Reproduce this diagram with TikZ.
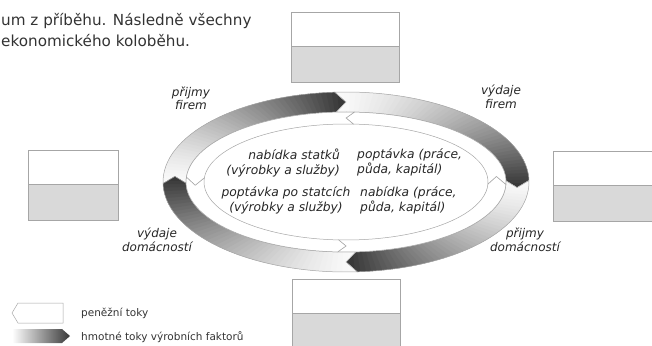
\documentclass[tikz,border=0pt]{standalone}
\usepackage{fontspec}
\setmainfont{DejaVu Sans}
\newcommand\oseg[5]{\path[#5] (#2:183pt and 90pt) arc[start angle=#2,end angle=#3,x radius=183pt,y radius=90pt] -- (#4:171.5pt and 80pt) -- (#3:160pt and 70pt) arc[start angle=#3,end angle=#2,x radius=160pt,y radius=70pt] -- (#1:171.5pt and 80pt) -- cycle;}
\newcommand\iseg[5]{\path[#5] (#2:160pt and 70pt) arc[start angle=#2,end angle=#3,x radius=160pt,y radius=70pt] -- (#4:151pt and 64pt) -- (#3:142pt and 58pt) arc[start angle=#3,end angle=#2,x radius=142pt,y radius=58pt] -- (#1:151pt and 64pt) -- cycle;}
\newcommand\gradseg[4]{%
  \begin{scope}
    \oseg{#1}{#2}{#3}{#4}{clip}
    \foreach \i in {0,...,47}{%
      \pgfmathsetmacro\angA{#2+(\i-0.6)*(#4-#2)/48}%
      \pgfmathsetmacro\angB{#2+(\i+1.3)*(#4-#2)/48}%
      \pgfmathsetmacro\shd{2+76*(\i/47)^1.4}%
      \fill[black!\shd] (0,0) -- (\angA:260pt and 140pt) -- (\angB:260pt and 140pt) -- cycle;
    }
  \end{scope}
  \oseg{#1}{#2}{#3}{#4}{draw=black!35, line width=0.5pt}%
}
\begin{document}
\begin{tikzpicture}[x=1pt,y=1pt,
  boxline/.style={draw=black!35, line width=0.7pt},
  boxgray/.style={fill=black!15},
  lab/.style={font=\fontsize{12}{13.5}\selectfont\itshape, text=black!85, align=center, inner sep=0pt},
  intext/.style={font=\fontsize{12.3}{15}\selectfont\itshape, text=black!85, inner sep=0pt},
  legtext/.style={font=\fontsize{10.5}{12}\selectfont, text=black!80, inner sep=0pt, anchor=west},
  toptext/.style={font=\fontsize{15.2}{18}\selectfont, text=black!80, inner sep=0pt, anchor=base west}]
\useasboundingbox (0,0) rectangle (652,-345);
\clip (0,0) rectangle (652,-345);
% boxes
\fill[white] (291,-12) rectangle (399,-46);
\fill[boxgray] (291,-46) rectangle (399,-82);
\draw[boxline] (291,-12) rectangle (399,-82) (291,-46) -- (399,-46);
\fill[white] (28,-150) rectangle (118,-184);
\fill[boxgray] (28,-184) rectangle (118,-220);
\draw[boxline] (28,-150) rectangle (118,-220) (28,-184) -- (118,-184);
\fill[white] (553,-151) rectangle (660,-185);
\fill[boxgray] (553,-185) rectangle (660,-221);
\draw[boxline] (553,-151) rectangle (660,-221) (553,-185) -- (660,-185);
\fill[white] (292,-279) rectangle (400,-313);
\fill[boxgray] (292,-313) rectangle (400,-350);
\draw[boxline] (292,-279) rectangle (400,-350) (292,-313) -- (400,-313);
% ring
\begin{scope}[shift={(346,-182)}]
  \gradseg{176}{181}{93.5}{90}
  \gradseg{90}{93.5}{1}{-4}
  \gradseg{-4}{1}{-86.5}{-90}
  \gradseg{-90}{-86.5}{-179}{-184}
  \iseg{-90}{-93}{-2}{5}{fill=white, draw=black!35, line width=0.5pt}
  \iseg{5}{-2}{87}{90}{fill=white, draw=black!35, line width=0.5pt}
  \iseg{90}{87}{176}{183}{fill=white, draw=black!35, line width=0.5pt}
  \iseg{183}{176}{267}{270}{fill=white, draw=black!35, line width=0.5pt}
\end{scope}
% top text
\node[toptext] (t1) at (1,-26) {um z příběhu. Následně všechny};
\node[toptext] (t2) at (1,-46) {ekonomického koloběhu.};
% labels
\node[lab] (pf) at (191,-98.5) {přijmy\\firem};
\node[lab] (vf) at (501,-97) {výdaje\\firem};
\node[lab] (vd) at (157,-240) {výdaje\\domácností};
\node[lab] (pd) at (525,-240) {přijmy\\domácností};
% inner text
\node[intext, anchor=east, align=right] (ns) at (340,-162.5) {nabídka statků\\(výrobky a služby)};
\node[intext, anchor=west, align=left] (pp) at (357,-162.5) {poptávka (práce,\\půda, kapitál)};
\node[intext, align=center] (ps) at (286,-200.5) {poptávka po statcích\\(výrobky a služby)};
\node[intext, anchor=west, align=left] (np) at (360,-200.5) {nabídka (práce,\\půda, kapitál)};
% legend
\draw[black!35, fill=white, line width=0.5pt] (18,-303) -- (63,-303) -- (63,-323) -- (18,-323) -- (12,-313) -- cycle;
\shade[left color=white, right color=black!78] (12,-329) -- (62,-329) -- (70,-336) -- (62,-343) -- (12,-343) -- cycle;
\node[legtext] (l1) at (81,-313) {peněžní toky};
\node[legtext] (l2) at (81,-337) {hmotné toky výrobních faktorů};
\end{tikzpicture}
\end{document}
